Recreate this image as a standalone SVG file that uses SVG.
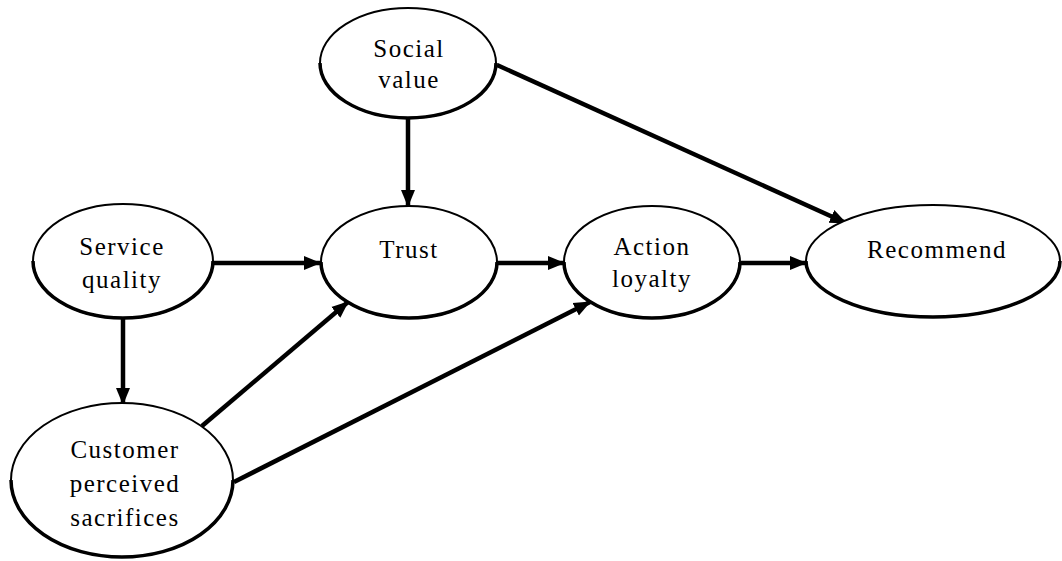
<svg xmlns="http://www.w3.org/2000/svg" width="1062" height="561" viewBox="0 0 1062 561">
<style>
.node ellipse{fill:#fff;stroke:#000;stroke-width:2}
.node path{fill:none;stroke:#000;stroke-width:3.5}
.node text{font-family:"Liberation Serif","Times New Roman",serif;font-size:25px;letter-spacing:1.5px;text-anchor:middle;fill:#000}
#edges line{stroke:#000;stroke-width:4.5;marker-end:url(#ah)}
</style>
<defs>
<marker id="ah" markerUnits="userSpaceOnUse" markerWidth="18" markerHeight="16" refX="16" refY="8" orient="auto">
<path d="M0,1 L17,8 L0,15 Z" fill="#000"/>
</marker>
</defs>
<rect width="1062" height="561" fill="#fff"/>
<g id="edges">
<line x1="408" y1="118" x2="408" y2="206"/>
<line x1="497" y1="65" x2="846" y2="223"/>
<line x1="213" y1="263" x2="320" y2="263"/>
<line x1="497" y1="263" x2="564" y2="263"/>
<line x1="741" y1="263" x2="806" y2="263"/>
<line x1="123" y1="318" x2="123" y2="404"/>
<line x1="202" y1="426" x2="348" y2="302"/>
<line x1="234" y1="482" x2="590" y2="302"/>
</g>
<g id="social" class="node">
<ellipse cx="408" cy="63" rx="88" ry="55"/>
<path d="M320,63 A88,55 0 0 0 496,63"/>
<text x="409" y="57">Social</text>
<text x="409" y="88">value</text>
</g>
<g id="service" class="node">
<ellipse cx="123" cy="261" rx="90" ry="57"/>
<path d="M33,261 A90,57 0 0 0 213,261"/>
<text x="122" y="255">Service</text>
<text x="122" y="288">quality</text>
</g>
<g id="trust" class="node">
<ellipse cx="409" cy="262" rx="88" ry="56"/>
<path d="M321,262 A88,56 0 0 0 497,262"/>
<text x="409" y="258">Trust</text>
</g>
<g id="action" class="node">
<ellipse cx="652" cy="262" rx="88" ry="56"/>
<path d="M564,262 A88,56 0 0 0 740,262"/>
<text x="652" y="255">Action</text>
<text x="652" y="287">loyalty</text>
</g>
<g id="recommend" class="node">
<ellipse cx="933" cy="261" rx="127" ry="56"/>
<path d="M806,261 A127,56 0 0 0 1060,261"/>
<text x="937" y="258">Recommend</text>
</g>
<g id="customer" class="node">
<ellipse cx="122" cy="480" rx="111" ry="77"/>
<path d="M11,480 A111,77 0 0 0 233,480"/>
<text x="125" y="458">Customer</text>
<text x="125" y="492">perceived</text>
<text x="125" y="526">sacrifices</text>
</g>
</svg>
